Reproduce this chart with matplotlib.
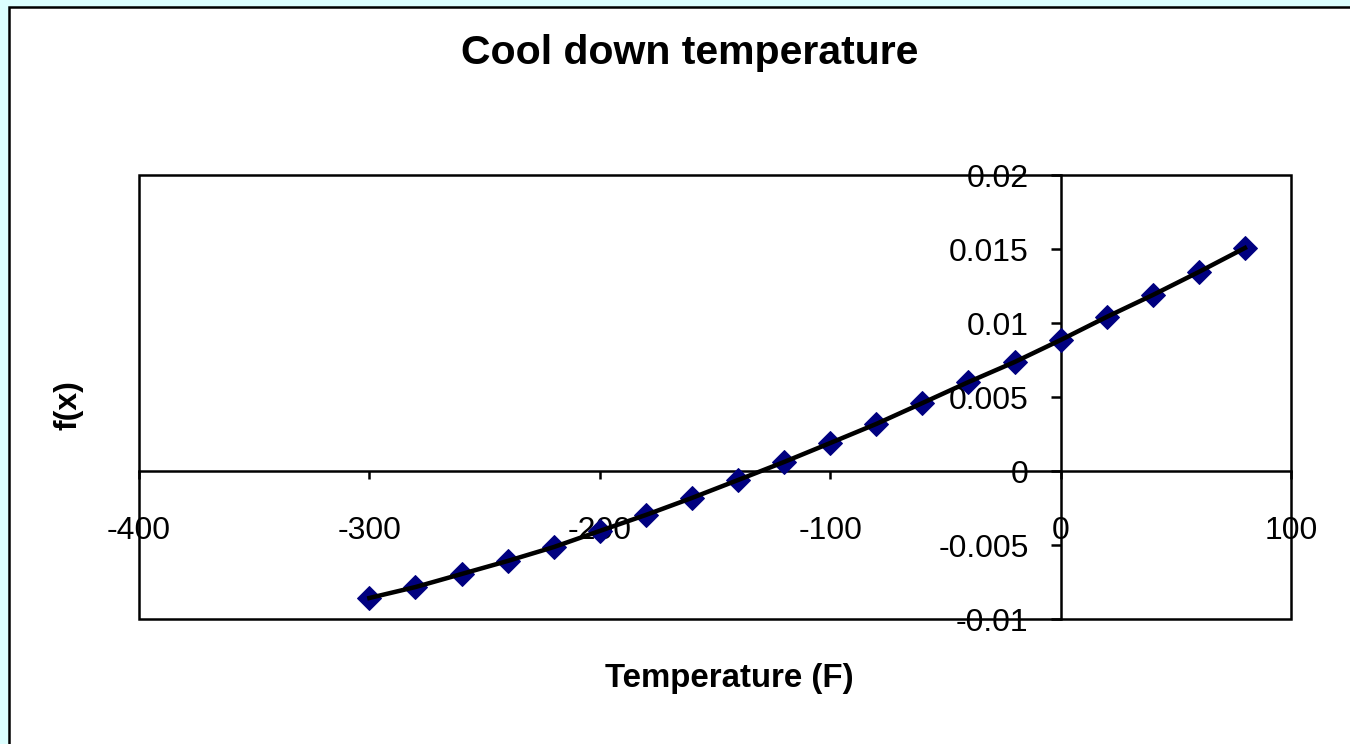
import matplotlib
matplotlib.use("Agg")
import matplotlib.pyplot as plt
import matplotlib.transforms as mtransforms
from matplotlib.patches import Rectangle

# temperature (F) and f(x)
temp_f = [-300, -280, -260, -240, -220, -200, -180, -160, -140, -120,
          -100, -80, -60, -40, -20, 0, 20, 40, 60, 80]
fx = [-0.00858, -0.00784, -0.00696, -0.00608, -0.00514, -0.00405, -0.00297,
      -0.00182, -0.00061, 0.00061, 0.00189, 0.00318, 0.00459, 0.00601,
      0.00736, 0.00885, 0.01041, 0.01189, 0.01345, 0.01507]

x_ticks = [-400, -300, -200, -100, 0, 100]
y_ticks = [-0.01, -0.005, 0, 0.005, 0.01, 0.015, 0.02]
y_labels = ['-0.01', '-0.005', '0', '0.005', '0.01', '0.015', '0.02']

plt.rcParams['font.family'] = ['Liberation Sans', 'DejaVu Sans']

W, H, DPI = 1350, 744, 72
fig = plt.figure(figsize=(W / DPI, H / DPI), dpi=DPI, facecolor='#DCFFFF')

# white chart area with black left/top border (behind the axes)
fig.patches.append(Rectangle((9 / W, -0.05), 1.2, 1.05 - 7 / H,
                             transform=fig.transFigure, facecolor='white',
                             edgecolor='black', lw=2.5, zorder=-5))

ax = fig.add_axes((139 / W, 1 - 619 / H, (1291 - 139) / W, (619 - 175) / H))
ax.set_facecolor('white')
ax.set_xlim(-400, 100)
ax.set_ylim(-0.01, 0.02)

# axes cross at zero, plus a frame round the plot area
for s in ['top', 'right']:
    ax.spines[s].set_visible(False)
ax.spines['left'].set_position(('data', 0))
ax.spines['bottom'].set_position(('data', 0))
for s in ['left', 'bottom']:
    ax.spines[s].set_linewidth(2.5)
ax.add_patch(Rectangle((0, 0), 1, 1, transform=ax.transAxes, fill=False,
                       edgecolor='black', lw=2.5, zorder=1, clip_on=False))

ax.plot(temp_f, fx, linestyle='none', marker='D', markersize=17,
        color='#000080', zorder=3, clip_on=False)
ax.plot(temp_f, fx, '-', color='black', lw=4.5, zorder=4, clip_on=False)

ax.set_xticks(x_ticks)
ax.set_xticklabels([str(v) for v in x_ticks])
ax.set_yticks(y_ticks)
ax.set_yticklabels(y_labels)
ax.tick_params(axis='x', direction='out', length=8, width=2.5, labelsize=32, pad=37)
ax.tick_params(axis='y', direction='out', length=10, width=2.5, labelsize=32, pad=22)
shift = mtransforms.ScaledTranslation(0, -4 / DPI, fig.dpi_scale_trans)
for lab in ax.get_yticklabels():
    lab.set_verticalalignment('center')
    lab.set_transform(lab.get_transform() + shift)

fig.text(690 / W, 1 - 53 / H, 'Cool down temperature', ha='center', va='center',
         fontsize=41, fontweight='bold')
fig.text(729 / W, 1 - 679 / H, 'Temperature (F)', ha='center', va='center',
         fontsize=33, fontweight='bold')
fig.text(68 / W, 1 - 405 / H, 'f(x)', ha='center', va='center', rotation=90,
         fontsize=32, fontweight='bold')

fig.savefig('out.png', dpi=DPI, facecolor=fig.get_facecolor())
